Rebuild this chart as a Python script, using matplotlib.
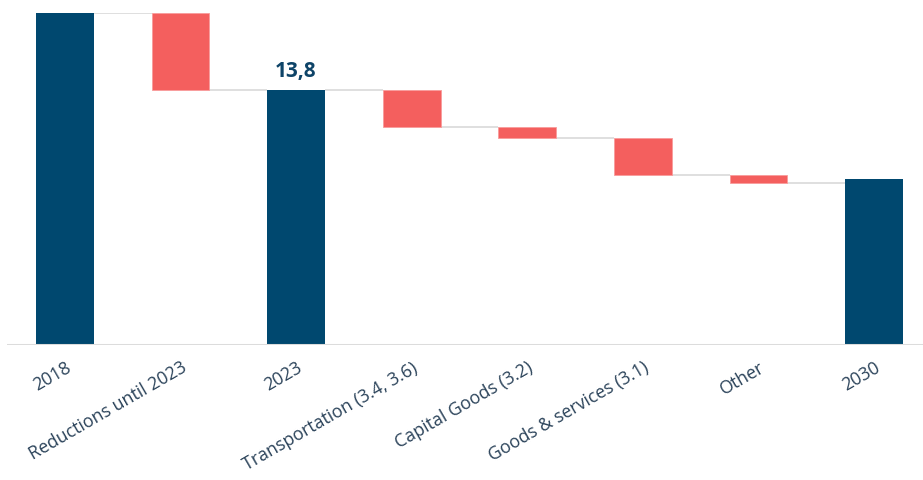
import matplotlib
matplotlib.use("Agg")
import matplotlib.pyplot as plt

categories = ["2018", "Reductions until 2023", "2023", "Transportation (3.4, 3.6)",
              "Capital Goods (3.2)", "Goods & services (3.1)", "Other", "2030"]
totals = {"2018": 18.0, "2023": 13.8, "2030": 9.0}
reductions = {"Reductions until 2023": 4.2, "Transportation (3.4, 3.6)": 2.0,
              "Capital Goods (3.2)": 0.6, "Goods & services (3.1)": 2.0, "Other": 0.4}
label_category = "2023"
label_text = "13,8"

NAVY = "#00486f"
RED = "#f45f5e"
GRID = "#dcdcdc"
TEXT = "#2a4259"

plt.rcParams["font.family"] = ["Open Sans", "DejaVu Sans"]

fig = plt.figure(figsize=(9.23, 4.80), dpi=100)
ax = fig.add_axes([7 / 923, 135 / 480, 925 / 923, 332 / 480])

width = 0.5
level = 0.0
for i, cat in enumerate(categories):
    if cat in totals:
        v = totals[cat]
        ax.bar(i, v, width=width, bottom=0, color=NAVY, zorder=3)
        level = v
    else:
        d = reductions[cat]
        ax.bar(i, d, width=width, bottom=level - d, color=RED,
               edgecolor="#f89c9b", linewidth=0.6, zorder=3)
        level = level - d

# connector lines between consecutive bars
running = 0.0
for i, cat in enumerate(categories[:-1]):
    if cat in totals:
        running = totals[cat]
    else:
        running = running - reductions[cat]
    ax.plot([i + width / 2, i + 1 - width / 2], [running, running],
            color=GRID, lw=1.3, zorder=2, solid_capstyle="butt")

ax.axhline(0, color=GRID, lw=2.2, zorder=4)

li = categories.index(label_category)
ax.text(li, totals[label_category] + 0.45, label_text, ha="center", va="bottom",
        fontsize=15, fontweight="bold", color="#0e4468")

ax.set_xlim(-0.5, 7.5)
ax.set_ylim(0, 18.0)
ax.set_xticks(range(len(categories)))
ax.set_xticklabels(categories, rotation=30, ha="right", rotation_mode="anchor",
                   fontsize=12.8, color=TEXT)
ax.tick_params(axis="x", length=0, pad=10)
ax.set_yticks([])
for s in ax.spines.values():
    s.set_visible(False)

fig.savefig("out.png", dpi=100, facecolor="white")
